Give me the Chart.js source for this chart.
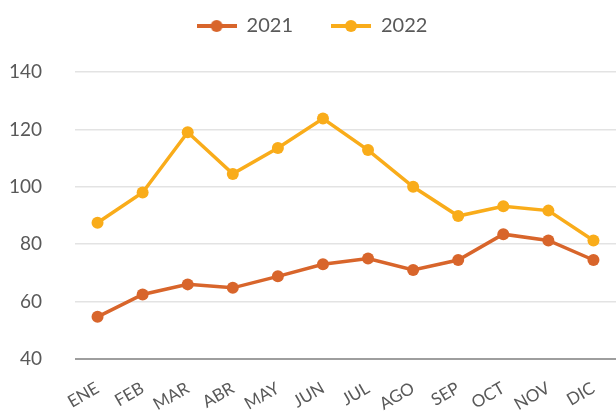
<!DOCTYPE html>
<html>
<head>
<meta charset="utf-8">
<script src="https://cdn.jsdelivr.net/npm/chart.js@4.4.1/dist/chart.umd.min.js"></script>
<style>
  html, body { margin: 0; padding: 0; background: #fff; }
  #wrap { width: 616px; height: 414px; }
</style>
</head>
<body>
<div id="wrap"><canvas id="chart"></canvas></div>
<script>
// Chart data
const months = ['ENE', 'FEB', 'MAR', 'ABR', 'MAY', 'JUN', 'JUL', 'AGO', 'SEP', 'OCT', 'NOV', 'DIC'];
const values2021 = [54.7, 62.5, 66, 64.8, 68.8, 73, 75, 71, 74.5, 83.5, 81.3, 74.5];
const values2022 = [87.5, 98, 119, 104.5, 113.5, 123.8, 112.8, 100, 89.8, 93.2, 91.7, 81.3];
const yTicks = [40, 60, 80, 100, 120, 140];

const color2021 = '#D8652B';
const color2022 = '#F9AC1A';
const textColor = '#595959';
const fontFamily = 'Lato, "Open Sans", sans-serif';

// legend marker: line with a dot
function legendMarker(color) {
    const c = document.createElement('canvas');
    c.width = 40; c.height = 14;
    const g = c.getContext('2d');
    g.strokeStyle = color;
    g.lineWidth = 4;
    g.beginPath();
    g.moveTo(0, 7);
    g.lineTo(40, 7);
    g.stroke();
    g.fillStyle = color;
    g.beginPath();
    g.arc(20, 7, 6, 0, Math.PI * 2);
    g.fill();
    return c;
}

// move legend up but keep the plot where it is
const legendShift = 26;
const legendFitPlugin = {
    id: 'legendFit',
    beforeInit(chart) {
        const fit = chart.legend.fit;
        chart.legend.fit = function () {
            fit.call(this);
            this.height += legendShift;
        };
    }
};

const ctx = document.getElementById('chart').getContext('2d');
new Chart(ctx, {
    type: 'line',
    plugins: [legendFitPlugin],
    data: {
        labels: months,
        datasets: [{
            label: '2021',
            data: values2021,
            borderColor: color2021,
            backgroundColor: color2021,
            borderWidth: 3.5,
            pointRadius: 6,
            pointHoverRadius: 6,
            pointBorderWidth: 0,
            tension: 0,
            fill: false
        }, {
            label: '2022',
            data: values2022,
            borderColor: color2022,
            backgroundColor: color2022,
            borderWidth: 3.5,
            pointRadius: 6,
            pointHoverRadius: 6,
            pointBorderWidth: 0,
            tension: 0,
            fill: false
        }]
    },
    options: {
        responsive: true,
        maintainAspectRatio: false,
        animation: false,
        layout: { autoPadding: false, padding: { top: 4 - legendShift, left: 8, right: 0, bottom: 0 } },
        plugins: {
            tooltip: { enabled: false },
            legend: {
                position: 'top',
                labels: {
                    usePointStyle: true,
                    pointStyleWidth: 40,
                    boxHeight: 14,
                    padding: 38,
                    color: textColor,
                    font: { family: fontFamily, size: 20 },
                    generateLabels: chart => chart.data.datasets.map((ds, i) => ({
                        text: ds.label,
                        fontColor: textColor,
                        pointStyle: legendMarker(ds.borderColor),
                        datasetIndex: i,
                        hidden: false,
                        lineWidth: 0
                    }))
                }
            }
        },
        scales: {
            x: {
                offset: true,
                grid: { display: false, drawTicks: false },
                border: { display: false },
                afterFit: scale => {
                    scale.paddingLeft = 0;
                    scale.paddingRight = 0;
                    scale.height = 55;
                },
                ticks: {
                    color: textColor,
                    font: { family: fontFamily, size: 17 },
                    minRotation: 30,
                    maxRotation: 30,
                    padding: 19,
                    autoSkip: false
                }
            },
            y: {
                min: 40,
                max: 140,
                afterBuildTicks: axis => { axis.ticks = yTicks.map(v => ({ value: v })); },
                afterFit: scale => { scale.width = 67; },
                grid: {
                    color: ctx => ctx.tick && ctx.tick.value === 40 ? '#9e9e9e' : '#e3e3e3',
                    lineWidth: ctx => ctx.tick && ctx.tick.value === 40 ? 2 : 1.5,
                    drawTicks: false
                },
                border: { display: false },
                ticks: {
                    color: textColor,
                    font: { family: fontFamily, size: 19 },
                    padding: 33
                }
            }
        }
    }
});
</script>
</body>
</html>
